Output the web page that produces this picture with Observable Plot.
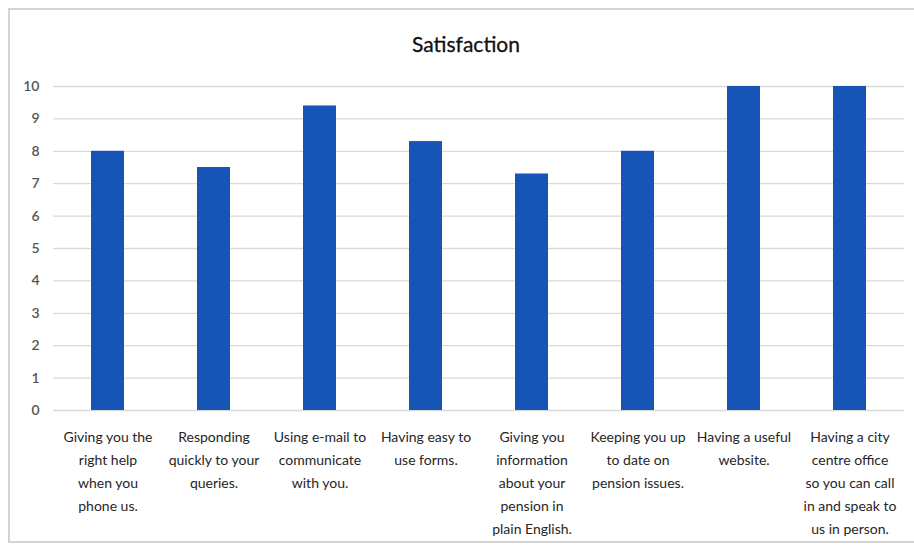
<!DOCTYPE html>
<html>
<head>
<meta charset="utf-8">
<script src="https://cdn.jsdelivr.net/npm/d3@7"></script>
<script src="https://cdn.jsdelivr.net/npm/@observablehq/plot@0.6"></script>
<style>
  html, body { margin: 0; padding: 0; background: #ffffff; }
  #wrap { position: relative; width: 914px; height: 548px; overflow: hidden; background: #fff; }
  #frame { position: absolute; left: 8px; top: 8px; width: 920px; height: 535px;
           border: 2px solid #d4d4d4; box-sizing: border-box; }
  #title { position: absolute; left: 316px; width: 300px; top: 31px; text-align: center;
           font-family: Lato, "Open Sans", sans-serif; font-size: 21px; color: #111111;
           -webkit-text-stroke: 0.3px #111111; }
  #chart { position: absolute; left: 0; top: 70px; }
</style>
</head>
<body>
<div id="wrap">
  <div id="frame"></div>
  <div id="title">Satisfaction</div>
  <div id="chart"></div>
</div>
<script>
// Service aspects, in display order (line breaks as wrapped under each bar)
const categories = [
  "Giving you the\nright help\nwhen you\nphone us.",
  "Responding\nquickly to your\nqueries.",
  "Using e-mail to\ncommunicate\nwith you.",
  "Having easy to\nuse forms.",
  "Giving you\ninformation\nabout your\npension in\nplain English.",
  "Keeping you up\nto date on\npension issues.",
  "Having a useful\nwebsite.",
  "Having a city\ncentre office\nso you can call\nin and speak to\nus in person."
];

// Satisfaction score for each aspect (0–10)
const scores = [8.0, 7.5, 9.4, 8.3, 7.3, 8.0, 10.0, 10.0];

// Y axis tick values
const yTicks = [0, 1, 2, 3, 4, 5, 6, 7, 8, 9, 10];

const data = categories.map((c, i) => ({aspect: c, score: scores[i]}));

const chart = Plot.plot({
  width: 914,
  height: 478,
  marginTop: 16,
  marginBottom: 138,
  marginLeft: 53,
  marginRight: 10,
  style: {fontFamily: "Lato, 'Open Sans', sans-serif", background: "transparent"},
  x: {domain: categories, paddingInner: 0.69, paddingOuter: 0.345, label: null},
  y: {domain: [0, 10], label: null},
  marks: [
    Plot.gridY(yTicks, {stroke: "#d9d9d9", strokeOpacity: 1, strokeWidth: 1.3}),
    Plot.barY(data, {x: "aspect", y: "score", fill: "#1655b6"}),
    Plot.axisY(yTicks, {
      tickSize: 0, tickPadding: 14, fontSize: 14, fontWeight: 600, fill: "#555555",
      label: null
    }),
    Plot.axisX({
      tickSize: 0, tickPadding: 15, fontSize: 14, lineHeight: 1.64, fill: "#262626",
      stroke: "#262626", strokeWidth: 0.25,
      textOverflow: null, label: null
    })
  ]
});

document.getElementById("chart").appendChild(chart);
</script>
</body>
</html>
